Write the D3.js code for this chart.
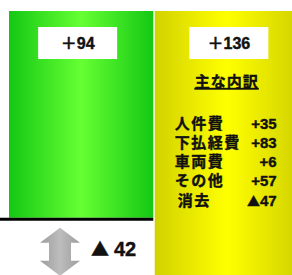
<!DOCTYPE html>
<html>
<head>
<meta charset="utf-8">
<script src="https://cdn.jsdelivr.net/npm/d3@7"></script>
<style>
  body { margin: 0; background: #fff; }
  svg { display: block; }
  text { font-family: "Liberation Sans", "Noto Sans CJK JP", sans-serif; font-weight: bold; fill: #111; }
  .heavy { stroke: #111; stroke-width: 0.4px; }
  .tri { font-family: "Noto Sans CJK JP", sans-serif; }
</style>
</head>
<body>
<div id="viz"></div>
<script>
const width = 292;
const height = 275;

// bars: before / after totals
const categories = ["A", "B"];
const totals = [94, 136];
const totalLabels = ["＋94", "＋136"];

// breakdown of the second bar
const breakdownTitle = "主な内訳";
const breakdownNames = ["人件費", "下払経費", "車両費", "その他", "消去"];
const breakdownValues = [35, 83, 6, 57, -47];

// difference between the two bars
const diffValue = 42;

const svg = d3.select("#viz")
  .append("svg")
  .attr("width", width)
  .attr("height", height);

const defs = svg.append("defs");

function hGradient(id, edge, mid) {
  const g = defs.append("linearGradient").attr("id", id)
    .attr("x1", "0%").attr("x2", "100%").attr("y1", "0%").attr("y2", "0%");
  g.append("stop").attr("offset", "0%").attr("stop-color", edge);
  g.append("stop").attr("offset", "50%").attr("stop-color", mid);
  g.append("stop").attr("offset", "100%").attr("stop-color", edge);
}
hGradient("grad-green", "#14c814", "#66ff33");
hGradient("grad-yellow", "#d2d200", "#ffff00");
hGradient("grad-gray", "#9c9c9c", "#bdbdbd");

const x = d3.scaleBand()
  .domain(categories)
  .range([9, 299])
  .paddingInner(0.01);

// bars hang down from a common top
const y = d3.scaleLinear()
  .domain([0, 136])
  .range([11, 11 + 136 * 2.2]);

const fills = ["url(#grad-green)", "url(#grad-yellow)"];

svg.selectAll(".bar")
  .data(categories)
  .enter()
  .append("rect")
  .attr("class", "bar")
  .attr("x", d => x(d))
  .attr("y", y(0))
  .attr("width", x.bandwidth())
  .attr("height", (d, i) => y(totals[i]) - y(0))
  .attr("fill", (d, i) => fills[i]);

// baseline under first bar
svg.append("line")
  .attr("x1", 0)
  .attr("x2", x("A") + x.bandwidth())
  .attr("y1", y(totals[0]) + 1.5)
  .attr("y2", y(totals[0]) + 1.5)
  .attr("stroke", "#000")
  .attr("stroke-width", 3);

// total label boxes
const boxW = 79, boxH = 32, boxTop = 27;
const boxes = svg.selectAll(".total")
  .data(categories)
  .enter()
  .append("g")
  .attr("class", "total")
  .attr("transform", (d, i) => "translate(" + (x(d) + x.bandwidth() / 2 + (i === 0 ? -3.5 : 2)) + "," + boxTop + ")");

boxes.append("rect")
  .attr("x", -boxW / 2)
  .attr("width", boxW)
  .attr("height", boxH)
  .attr("fill", "#fff");

boxes.append("text")
  .attr("class", "heavy")
  .attr("y", 22)
  .attr("text-anchor", "middle")
  .style("font-size", "16px")
  .text((d, i) => totalLabels[i]);

// breakdown list
const bx = x("B");
svg.append("text")
  .attr("class", "heavy")
  .attr("x", bx + 72)
  .attr("y", 87)
  .attr("text-anchor", "middle")
  .style("font-size", "15px")
  .style("letter-spacing", "1px")
  .style("text-decoration", "underline")
  .text(breakdownTitle);

const rowStep = 19.3;
const rows = svg.selectAll(".row")
  .data(breakdownNames)
  .enter()
  .append("g")
  .attr("class", "row")
  .attr("transform", (d, i) => "translate(0," + (128.5 + i * rowStep) + ")");

rows.append("text")
  .attr("class", "heavy")
  .attr("x", (d, i) => bx + 20 + (i === 4 ? 3 : 0))
  .style("font-size", "15px")
  .style("letter-spacing", "1.5px")
  .text(d => d);

const values = rows.append("text")
  .attr("class", "heavy")
  .attr("x", bx + 122)
  .attr("text-anchor", "end")
  .style("font-size", "15px");
values.each(function(d, i) {
  const v = breakdownValues[i];
  const t = d3.select(this);
  if (v < 0) {
    t.append("tspan").attr("class", "tri").style("font-size", "13px").text("▲");
    t.append("tspan").text(-v);
  } else {
    t.text("+" + v);
  }
});

// difference arrow
const ax = 60, aTop = y(totals[0]) + 10, aLen = 48;
const headW = 40, headH = 15, shaftW = 22;
const arrowPath = d3.path();
arrowPath.moveTo(ax, aTop);
arrowPath.lineTo(ax + headW / 2, aTop + headH);
arrowPath.lineTo(ax + shaftW / 2, aTop + headH);
arrowPath.lineTo(ax + shaftW / 2, aTop + aLen - headH);
arrowPath.lineTo(ax + headW / 2, aTop + aLen - headH);
arrowPath.lineTo(ax, aTop + aLen);
arrowPath.lineTo(ax - headW / 2, aTop + aLen - headH);
arrowPath.lineTo(ax - shaftW / 2, aTop + aLen - headH);
arrowPath.lineTo(ax - shaftW / 2, aTop + headH);
arrowPath.lineTo(ax - headW / 2, aTop + headH);
arrowPath.closePath();

svg.append("path")
  .attr("d", arrowPath.toString())
  .attr("fill", "url(#grad-gray)");

const diffText = svg.append("text")
  .attr("class", "heavy")
  .attr("x", 91)
  .attr("y", 256);
diffText.append("tspan").attr("class", "tri").style("font-size", "18px").text("▲");
diffText.append("tspan").attr("dx", 5).style("font-size", "20px").text(diffValue);
</script>
</body>
</html>
